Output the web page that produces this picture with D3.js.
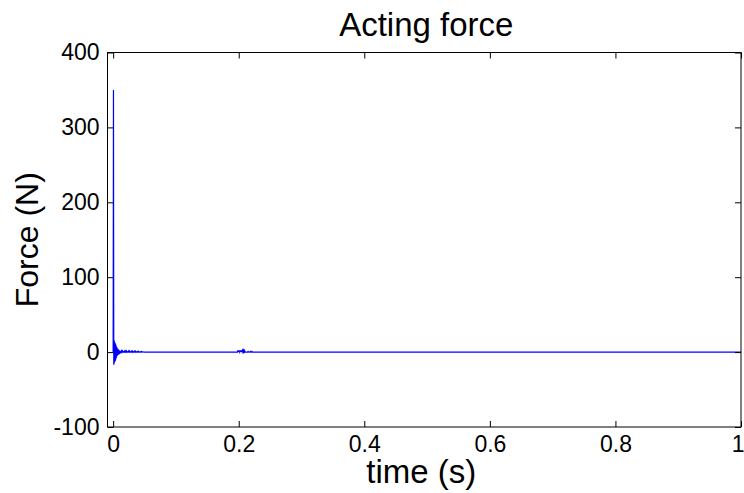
<!DOCTYPE html>
<html>
<head>
<meta charset="utf-8">
<script src="https://cdn.jsdelivr.net/npm/d3@7/dist/d3.min.js"></script>
<style>
  html, body { margin: 0; padding: 0; background: #fff; }
  svg { display: block; font-family: "Liberation Sans", Arial, Helvetica, sans-serif; }
</style>
</head>
<body>
<svg id="chart" width="744" height="493"></svg>
<script>
// Acting force on the structure after impact (time in s, force in N)
const timeS = [
  0, 0.0005, 0.0010, 0.0014, 0.0018, 0.0022, 0.0026, 0.0030, 0.0034, 0.0038,
  0.0042, 0.0046, 0.0050, 0.0054, 0.0058, 0.0062, 0.0066, 0.0070, 0.0074, 0.0078,
  0.0082, 0.0086, 0.0090, 0.0094, 0.0098, 0.0102, 0.0106, 0.0110, 0.0114, 0.0118,
  0.0126, 0.0134, 0.0142, 0.0150, 0.0158, 0.0166, 0.0174, 0.0182, 0.0190, 0.0198,
  0.0206, 0.0214, 0.0222, 0.0230, 0.0238, 0.0246, 0.0254, 0.0262, 0.0270, 0.0278,
  0.0286, 0.0294, 0.0302, 0.0310, 0.0318, 0.0326, 0.0334, 0.0342, 0.0350, 0.0358,
  0.0366, 0.0374, 0.0382, 0.0390, 0.0398, 0.0406, 0.0414, 0.0422, 0.0430, 0.0438,
  0.0446, 0.0454, 0.0462, 0.0470, 0.0478, 0.0490, 0.1980,
  0.1986, 0.1992, 0.1998, 0.2004, 0.2010, 0.2016, 0.2022, 0.2028, 0.2034, 0.2040,
  0.2046, 0.2052, 0.2058, 0.2064, 0.2070, 0.2076, 0.2082, 0.2088, 0.2094, 0.2100,
  0.2120, 0.2140, 0.2150, 0.2160, 0.2180, 0.2190, 0.2200, 0.2210, 0.2220, 0.2240,
  0.2260, 1.0
];
const forceN = [
  0, 350, -17, 16, -15, 14, -13, 12, -12, 11,
  -10, 9, -8, 7, -6, 6, -5, 4.5, -4, 4,
  -3.5, 3, -3, 2.5, -2.5, 2, -2, 1.8, -1.5, 1.5,
  -1.2, 1.6, 0.2, 1.8, 0.1, 0.3, 0, 1.4, 0.2, 1.6,
  0, 1.5, 0.1, 0.2, 0, 1.3, 0.1, 1.5, 0, 0.2,
  0.1, 1.2, 0, 1.4, 0.1, 0.2, 0, 1.1, 0, 1.2,
  0.1, 0.2, 0, 0.9, 0.1, 1.0, 0, 0.1, 0, 0.7,
  0, 0.8, 0, 0.1, 0.4, 0, 0,
  2.2, 0.2, 2.4, 0.1, 2.3, 0.3, 2.2, 0.2, 2.4, 0.1,
  2.3, 0.2, 2.2, 0.3, 2.1, 0.2, 2.0, 0.3, 1.8, 0.2,
  0, 0, 1.0, 0, 0, 1.0, 0, 1.0, 0, 0,
  0, 0
];
const xTicks = [0, 0.2, 0.4, 0.6, 0.8, 1];
const xTickLabels = ["0", "0.2", "0.4", "0.6", "0.8", "1"];
const yTicks = [-100, 0, 100, 200, 300, 400];
const yTickLabels = ["-100", "0", "100", "200", "300", "400"];
const titleText = "Acting force";
const xLabelText = "time (s)";
const yLabelText = "Force (N)";

const svg = d3.select("#chart");
const plot = { left: 107.5, right: 741, top: 52.5, bottom: 427 };

const x = d3.scaleLinear().domain([-0.009, 1]).range([plot.left, plot.right]);
const y = d3.scaleLinear().domain([-100, 400]).range([plot.bottom, plot.top]);

// data line, clipped to the axes box
svg.append("clipPath").attr("id", "plotClip")
  .append("rect")
  .attr("x", plot.left).attr("y", plot.top)
  .attr("width", plot.right - plot.left).attr("height", plot.bottom - plot.top);

const series = timeS.map((t, i) => [t, forceN[i]]);
svg.append("path")
  .datum(series)
  .attr("clip-path", "url(#plotClip)")
  .attr("fill", "none")
  .attr("stroke", "#0000ff")
  .attr("stroke-width", 1.2)
  .attr("d", d3.line().x(d => x(d[0])).y(d => y(d[1])));

// axes with inward ticks on all four sides
const tickLen = 6;
const fmtX = d => xTickLabels[xTicks.indexOf(d)];
const fmtY = d => yTickLabels[yTicks.indexOf(d)];

const gB = svg.append("g").attr("transform", `translate(0,${plot.bottom})`)
  .call(d3.axisBottom(x).tickValues(xTicks).tickFormat(fmtX).tickSize(-tickLen).tickPadding(9));
const gT = svg.append("g").attr("transform", `translate(0,${plot.top})`)
  .call(d3.axisTop(x).tickValues(xTicks).tickFormat("").tickSize(-tickLen));
const gL = svg.append("g").attr("transform", `translate(${plot.left},0)`)
  .call(d3.axisLeft(y).tickValues(yTicks).tickFormat(fmtY).tickSize(-tickLen).tickPadding(8));
const gR = svg.append("g").attr("transform", `translate(${plot.right},0)`)
  .call(d3.axisRight(y).tickValues(yTicks).tickFormat("").tickSize(-tickLen));

[gB, gT, gL, gR].forEach(g => {
  g.select(".domain").remove();
  g.selectAll(".tick line").attr("stroke", "#000").attr("stroke-width", 1);
  g.selectAll(".tick text")
    .attr("fill", "#000")
    .style("font-size", "23px")
    .style("font-family", "'Liberation Sans', Arial, sans-serif");
});

// keep the last x label inside the page edge
gB.selectAll(".tick text").filter(d => d === 1)
  .attr("text-anchor", "end").attr("x", 744 - plot.right);

// box
svg.append("rect")
  .attr("x", plot.left).attr("y", plot.top)
  .attr("width", plot.right - plot.left).attr("height", plot.bottom - plot.top)
  .attr("fill", "none").attr("stroke", "#000").attr("stroke-width", 1);

// title and axis labels
svg.append("text")
  .attr("x", (plot.left + plot.right) / 2 + 2).attr("y", 36)
  .attr("text-anchor", "middle")
  .style("font-size", "33px")
  .text(titleText);

svg.append("text")
  .attr("x", (plot.left + plot.right) / 2 - 3).attr("y", 483)
  .attr("text-anchor", "middle")
  .style("font-size", "33px")
  .text(xLabelText);

svg.append("text")
  .attr("transform", `translate(38,${(plot.top + plot.bottom) / 2}) rotate(-90)`)
  .attr("text-anchor", "middle")
  .style("font-size", "32px")
  .text(yLabelText);
</script>
</body>
</html>
